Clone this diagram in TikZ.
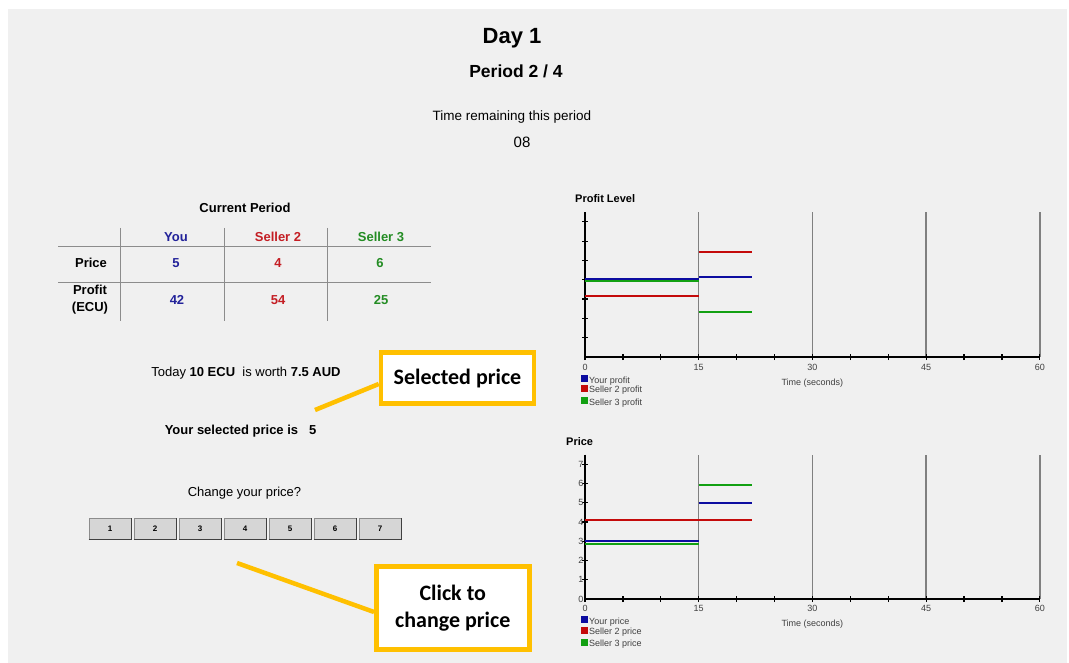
\documentclass[tikz,border=0pt]{standalone}
\usepackage{fontspec}
\setmainfont{Liberation Sans}
\newfontfamily\calloutfont{Carlito}
\usepackage{tikz}
\usetikzlibrary{calc, positioning}
\definecolor{panel}{HTML}{F0F0F0}
\definecolor{youblue}{HTML}{22229A}
\definecolor{sellred}{HTML}{C41E24}
\definecolor{sellgreen}{HTML}{238C23}
\definecolor{lineblue}{HTML}{0C0CA0}
\definecolor{linered}{HTML}{C40A0A}
\definecolor{linegreen}{HTML}{12A012}
\definecolor{callout}{HTML}{FFC000}
\definecolor{btngray}{HTML}{D6D6D6}
\tikzstyle{txt}=[inner sep=0pt, anchor=base]
\tikzstyle{cell}=[inner sep=0pt, anchor=base, font=\bfseries\fontsize{13}{15}\selectfont]
\tikzstyle{rule}=[draw=black!45, line width=1pt]
\tikzstyle{pricebtn}=[draw=black!45, fill=btngray, line width=1pt, minimum width=42pt, minimum height=21pt, inner sep=0pt, font=\bfseries\fontsize{8}{9}\selectfont]
\tikzstyle{callbox}=[draw=callout, fill=white, line width=4.5pt, inner sep=0pt, align=center, font=\calloutfont\bfseries\fontsize{22}{27}\selectfont]
\tikzstyle{callline}=[draw=callout, line width=4.5pt]
\tikzstyle{axis}=[draw=black, line width=2pt]
\tikzstyle{gridln}=[draw=black!50, line width=1.5pt]
\tikzstyle{tick}=[draw=black, line width=1.2pt]
\tikzstyle{small}=[inner sep=0pt, font=\fontsize{9}{10}\selectfont, text=black!75]
\tikzstyle{series}=[line width=2pt]
\tikzstyle{key}=[inner sep=0pt, minimum size=7pt]

\begin{document}
\begin{tikzpicture}[x=1pt, y=-1pt]
\useasboundingbox (0,0) rectangle (1069,663);
\fill[panel] (8,9) rectangle (1067,663);
%
\node[txt, font=\bfseries\fontsize{22}{26}\selectfont] (day) at (512,44) {Day 1};
\node[txt, font=\bfseries\fontsize{17.5}{21}\selectfont] (period) at (516,78) {Period 2 / 4};
\node[txt, font=\fontsize{13.5}{16}\selectfont] (remain) at (512,121) {Time remaining this period};
\node[txt, font=\fontsize{15}{18}\selectfont] (clock) at (522,147.5) {08};
%
% current period table
\node[cell] (cur) at (245,213) {Current Period};
\foreach \x in {120,224,327}
{
\draw[rule] (\x,228) -- (\x,321);
}
\draw[rule] (58,247) -- (431,247);
\draw[rule] (58,283) -- (431,283);
\node[cell, text=youblue] (you) at (176,241.5) {You};
\node[cell, text=sellred] (s2) at (278,241.5) {Seller 2};
\node[cell, text=sellgreen] (s3) at (381,241.5) {Seller 3};
\node[cell] (price) at (91,268) {Price};
\node[cell, anchor=center, align=center, font=\bfseries\fontsize{13}{17}\selectfont] (profit) at (90,300) {Profit\\(ECU)};
\node[cell, text=youblue] (p1) at (176,268) {5};
\node[cell, text=sellred] (p2) at (278,268) {4};
\node[cell, text=sellgreen] (p3) at (380,268) {6};
\node[cell, text=youblue] (e1) at (177,305) {42};
\node[cell, text=sellred] (e2) at (278,305) {54};
\node[cell, text=sellgreen] (e3) at (381,305) {25};
%
\node[txt, font=\fontsize{13}{15}\selectfont] (rate) at (246,376) {Today \textbf{10 ECU}\ \ is worth \textbf{7.5 AUD}};
\node[txt, font=\bfseries\fontsize{13}{15}\selectfont] (sel) at (240.5,434) {Your selected price is\ \ \ 5};
\node[txt, font=\fontsize{13}{15}\selectfont] (change) at (244.5,496.5) {Change your price?};
\foreach \j in {1,...,7}
{
\node[pricebtn] (b\j) at (110 + 45*\j - 45, 528.5) {\j};
\draw[black!75, line width=1.3pt] (b\j.south west) -- (b\j.south east) -- (b\j.north east);
}
%
% callouts
\node[callbox, minimum width=153pt, minimum height=51pt] (callsel) at (457.5,378.2) {Selected price};
\coordinate (selend) at (315,410);
\draw[callline] (selend) -- (callsel.west |- 0,384);
\node[callbox, minimum width=153pt, minimum height=83pt] (callclick) at (452.8,607.8) {Click to\\change price};
\coordinate (clickend) at (237,563);
\draw[callline] (clickend) -- (callclick.west |- 0,612);
%
% profit level chart
\node[txt, anchor=base west, font=\bfseries\fontsize{11}{13}\selectfont] (proftitle) at (575,203) {Profit Level};
\begin{scope}[shift={(585,357)}, x=7.58pt, y=19.3pt]
\foreach \t in {15,30,45,60}
{
\draw[gridln] (\t,0) -- (\t,7.5);
}
\foreach \t in {0,5,...,60}
{
\draw[tick] (\t,0) ++(0,-3pt) -- ++(0,6pt);
}
\foreach \v in {1,...,7}
{
\draw[tick] (0,\v) ++(-3pt,0) -- ++(6pt,0);
}
\draw[axis] (0,7.5) -- (0,0) -- (60,0);
\foreach \t in {0,15,30,45,60}
{
\node[small, anchor=base] (pft\t) at ($(\t,0)+(0,-13pt)$) {\t};
}
\draw[series, lineblue] (0,4.03) -- (15,4.03);
\draw[series, lineblue] (15,4.16) -- (22,4.16);
\draw[series, linered] (0,3.16) -- (15,3.16);
\draw[series, linered] (15,5.42) -- (22,5.42);
\draw[series, linegreen] (0,3.92) -- (15,3.92);
\draw[series, linegreen] (15,2.35) -- (22,2.35);
\node[small, anchor=base] (pfxlab) at ($(30,0)+(0,-28pt)$) {Time (seconds)};
\end{scope}
\node[key, fill=lineblue] (pfk1) at (584,378) {};
\node[key, fill=linered] (pfk2) at (584,388.5) {};
\node[key, fill=linegreen] (pfk3) at (584,400.5) {};
\node[small, anchor=base west] (pfl1) at (589,383) {Your profit};
\node[small, anchor=base west] (pfl2) at (589,392.5) {Seller 2 profit};
\node[small, anchor=base west] (pfl3) at (589,405) {Seller 3 profit};
%
% price chart
\node[txt, anchor=base west, font=\bfseries\fontsize{11}{13}\selectfont] (pricetitle) at (566,445) {Price};
\begin{scope}[shift={(585,599)}, x=7.58pt, y=19.24pt]
\foreach \t in {15,30,45,60}
{
\draw[gridln] (\t,0) -- (\t,7.5);
}
\foreach \t in {0,5,...,60}
{
\draw[tick] (\t,0) ++(0,-3pt) -- ++(0,6pt);
}
\foreach \v in {1,...,7}
{
\draw[tick] (0,\v) ++(-3pt,0) -- ++(6pt,0);
}
\foreach \v in {0,...,7}
{
\node[small, anchor=east] (prv\v) at ($(0,\v)+(-1.5pt,0)$) {\v};
}
\draw[axis] (0,7.5) -- (0,0) -- (60,0);
\foreach \t in {0,15,30,45,60}
{
\node[small, anchor=base] (prt\t) at ($(\t,0)+(0,-12pt)$) {\t};
}
\draw[series, lineblue] (0,3) -- (15,3);
\draw[series, lineblue] (15,5) -- (22,5);
\draw[series, linered] (0,4.09) -- (22,4.09);
\draw[series, linegreen] (0,2.86) -- (15,2.86);
\draw[series, linegreen] (15,5.9) -- (22,5.9);
\node[small, anchor=base] (prxlab) at ($(30,0)+(0,-27pt)$) {Time (seconds)};
\end{scope}
\node[key, fill=lineblue] (prk1) at (584,619.5) {};
\node[key, fill=linered] (prk2) at (584,630) {};
\node[key, fill=linegreen] (prk3) at (584,642) {};
\node[small, anchor=base west] (prl1) at (589,624.5) {Your price};
\node[small, anchor=base west] (prl2) at (589,634) {Seller 2 price};
\node[small, anchor=base west] (prl3) at (589,646) {Seller 3 price};
%
\end{tikzpicture}
\end{document}
